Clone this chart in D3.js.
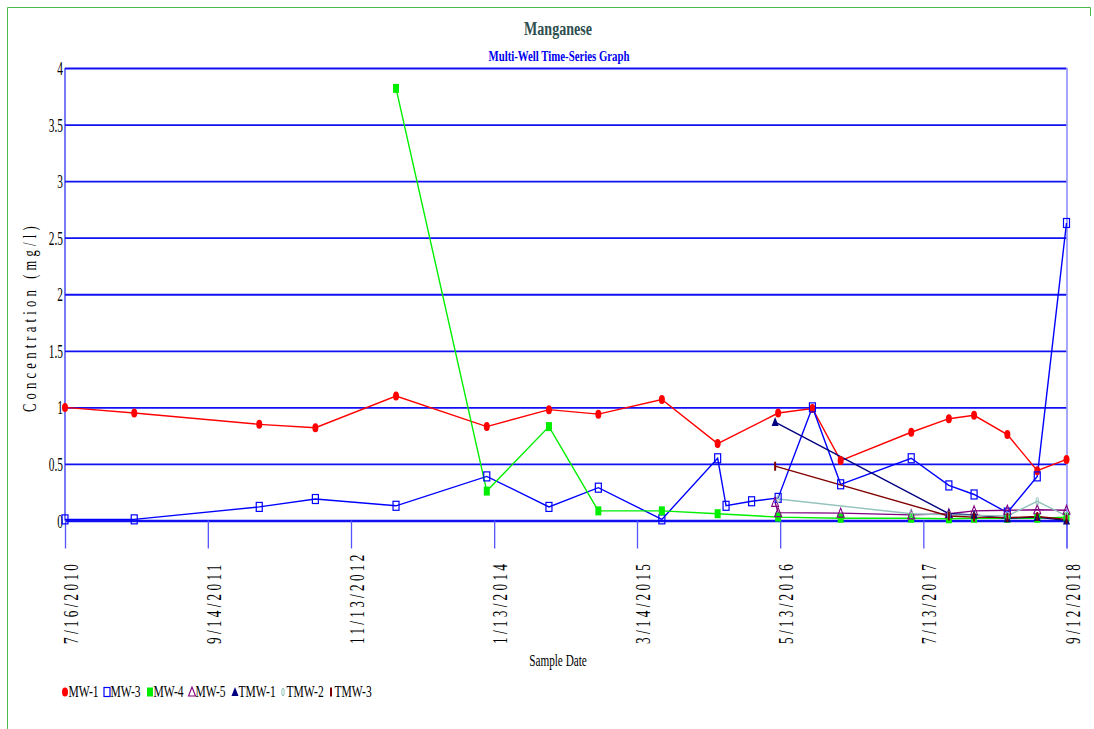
<!DOCTYPE html>
<html>
<head>
<meta charset="utf-8">
<script src="https://cdn.jsdelivr.net/npm/d3@7/dist/d3.min.js"></script>
<style>
  body { margin: 0; background: #fff; }
  svg { display: block; }
  text { font-family: "Liberation Serif", "Times New Roman", serif; }
</style>
</head>
<body>
<svg id="chart" width="1094" height="729"></svg>
<script>
// tick labels on the date axis and the concentration axis
var dateTicks = ['7/16/2010', '9/14/2011', '11/13/2012', '1/13/2014', '3/14/2015', '5/13/2016', '7/13/2017', '9/12/2018'];
var concTicks = [0, 0.5, 1, 1.5, 2, 2.5, 3, 3.5, 4];

// well data (mg/l)
var mw1Dates = ['2010-07-16', '2011-02-07', '2012-02-14', '2012-07-30', '2013-03-27', '2013-12-22', '2014-06-25', '2014-11-19', '2015-05-27', '2015-11-09', '2016-05-07', '2016-08-17', '2016-11-09', '2017-06-07', '2017-09-27', '2017-12-11', '2018-03-20', '2018-06-17', '2018-09-12'];
var mw1Values = [1.0, 0.95, 0.85, 0.82, 1.10, 0.83, 0.98, 0.94, 1.07, 0.68, 0.95, 0.99, 0.53, 0.78, 0.90, 0.93, 0.76, 0.44, 0.54];

var mw3Dates = ['2010-07-16', '2011-02-07', '2012-02-14', '2012-07-30', '2013-03-27', '2013-12-22', '2014-06-25', '2014-11-19', '2015-05-27', '2015-11-09', '2015-12-04', '2016-02-18', '2016-05-07', '2016-08-17', '2016-11-09', '2017-06-07', '2017-09-27', '2017-12-11', '2018-03-20', '2018-06-17', '2018-09-12'];
var mw3Values = [0.01, 0.01, 0.12, 0.19, 0.13, 0.39, 0.12, 0.29, 0.01, 0.55, 0.13, 0.17, 0.20, 1.0, 0.32, 0.55, 0.31, 0.23, 0.07, 0.39, 2.63];

var mw4Dates = ['2013-03-27', '2013-12-22', '2014-06-25', '2014-11-19', '2015-05-27', '2015-11-09', '2016-05-07', '2016-11-09', '2017-06-07', '2017-09-27', '2017-12-11', '2018-03-20', '2018-06-17', '2018-09-12'];
var mw4Values = [3.82, 0.26, 0.83, 0.085, 0.085, 0.06, 0.03, 0.02, 0.02, 0.015, 0.02, 0.02, 0.02, 0.03];

var mw5Dates = ['2016-04-28', '2016-05-07', '2016-11-09', '2017-06-07', '2017-09-27', '2017-12-11', '2018-03-20', '2018-06-17', '2018-09-12'];
var mw5Values = [0.16, 0.07, 0.065, 0.05, 0.06, 0.085, 0.09, 0.095, 0.09];

var tmw1Dates = ['2016-04-28', '2017-09-27', '2017-12-11', '2018-03-20', '2018-06-17', '2018-09-12'];
var tmw1Values = [0.87, 0.06, 0.05, 0.02, 0.03, 0.0];

var tmw2Dates = ['2016-05-07', '2017-06-07', '2017-09-27', '2018-03-20', '2018-06-17', '2018-09-12'];
var tmw2Values = [0.19, 0.06, 0.05, 0.04, 0.17, 0.04];

var tmw3Dates = ['2016-04-28', '2017-09-27', '2017-12-11', '2018-03-20', '2018-06-17', '2018-09-12'];
var tmw3Values = [0.48, 0.04, 0.03, 0.025, 0.035, 0.01];

(function() {
  var parseIso = d3.timeParse('%Y-%m-%d');
  var parseLabel = d3.timeParse('%m/%d/%Y');

  function zip(dates, values) {
    return dates.map(function(d, i) { return {date: parseIso(d), value: values[i]}; });
  }

  var series = [
    {name: 'MW-1', data: zip(mw1Dates, mw1Values), color: '#ff0000', marker: 'dot'},
    {name: 'MW-3', data: zip(mw3Dates, mw3Values), color: '#0000ff', marker: 'openSquare'},
    {name: 'MW-4', data: zip(mw4Dates, mw4Values), color: '#00ee00', marker: 'square'},
    {name: 'MW-5', data: zip(mw5Dates, mw5Values), color: '#800080', marker: 'openTriangle'},
    {name: 'TMW-1', data: zip(tmw1Dates, tmw1Values), color: '#000080', marker: 'triangle'},
    {name: 'TMW-2', data: zip(tmw2Dates, tmw2Values), color: '#93c3bb', marker: 'thinOval'},
    {name: 'TMW-3', data: zip(tmw3Dates, tmw3Values), color: '#800000', marker: 'bar'}
  ];

  var svg = d3.select('#chart');
  var plotLeft = 65, plotRight = 1066.5, plotTop = 68, plotBottom = 520.5;

  var x = d3.scaleTime()
    .domain([parseLabel(dateTicks[0]), parseLabel(dateTicks[dateTicks.length - 1])])
    .range([plotLeft, plotRight]);
  var y = d3.scaleLinear().domain([0, 4]).range([plotBottom, plotTop]);

  // condensed text helper (the original uses a narrow serif)
  function ctext(parent, tx, ty, str, opts) {
    opts = opts || {};
    var g = parent.append('g')
      .attr('transform', 'translate(' + tx + ',' + ty + ')' + (opts.rotate ? ' rotate(' + opts.rotate + ')' : '') + ' scale(' + (opts.sx || 0.7) + ',1)');
    return g.append('text')
      .attr('text-anchor', opts.anchor || 'start')
      .attr('font-size', opts.size || 15)
      .attr('font-weight', opts.weight || 'normal')
      .attr('letter-spacing', opts.ls || 0)
      .attr('fill', opts.fill || '#000')
      .text(str);
  }

  // outer green frame
  svg.append('path')
    .attr('d', 'M7.5,729 V7.5 H1090.5 V16')
    .attr('fill', 'none')
    .attr('stroke', '#4cb94c')
    .attr('stroke-width', 1);

  // titles
  ctext(svg, 558, 35, 'Manganese', {anchor: 'middle', size: 19, weight: 'bold', fill: '#2f4f4f', sx: 0.74});
  ctext(svg, 559, 61, 'Multi-Well Time-Series Graph', {anchor: 'middle', size: 15, weight: 'bold', fill: '#0000ee', sx: 0.72});

  // horizontal grid
  svg.append('g')
    .attr('transform', 'translate(' + plotLeft + ',0)')
    .call(d3.axisLeft(y).tickValues(concTicks).tickSize(-(plotRight - plotLeft)).tickFormat(''))
    .call(function(g) {
      g.select('.domain').remove();
      g.selectAll('.tick line').attr('stroke', '#1010f0').attr('stroke-width', 1.8);
      g.selectAll('.tick').filter(function(d) { return d === 0; }).select('line').attr('stroke-width', 2.6);
    });

  // left and right frame lines
  svg.append('line').attr('x1', plotLeft).attr('x2', plotLeft).attr('y1', plotTop).attr('y2', plotBottom)
    .attr('stroke', '#2020f0').attr('stroke-width', 1.2);
  svg.append('line').attr('x1', plotRight + 0.5).attr('x2', plotRight + 0.5).attr('y1', plotTop).attr('y2', plotBottom + 28)
    .attr('stroke', '#8080ff').attr('stroke-width', 1.4);

  // date ticks hanging under the zero line
  svg.append('g')
    .attr('transform', 'translate(0,' + plotBottom + ')')
    .call(d3.axisBottom(x).tickValues(dateTicks.map(parseLabel)).tickSize(28).tickFormat(''))
    .call(function(g) {
      g.select('.domain').remove();
      g.selectAll('.tick line').attr('stroke', '#5555ff').attr('stroke-width', 1.3);
    });

  // y tick labels
  concTicks.forEach(function(v) {
    ctext(svg, 63, y(v) + 7, String(v), {anchor: 'end', size: 19, sx: 0.6});
  });

  // x tick labels, rotated and spaced
  dateTicks.forEach(function(s) {
    ctext(svg, x(parseLabel(s)) + 13, 644, s, {anchor: 'start', size: 20, sx: 0.66, ls: 5, rotate: -90});
  });

  // axis titles
  ctext(svg, 36, 412, 'Concentration (mg/l)', {anchor: 'start', size: 18, sx: 0.7, ls: 6, rotate: -90});
  ctext(svg, 558, 666, 'Sample Date', {anchor: 'middle', size: 17, sx: 0.66});

  function drawMarker(g, type, color, cx, cy) {
    if (type === 'dot') {
      g.append('ellipse').attr('cx', cx).attr('cy', cy).attr('rx', 3).attr('ry', 4.5).attr('fill', color);
    } else if (type === 'openSquare') {
      g.append('rect').attr('x', cx - 3).attr('y', cy - 4.5).attr('width', 6).attr('height', 9)
        .attr('fill', 'none').attr('stroke', color).attr('stroke-width', 1.2);
    } else if (type === 'square') {
      g.append('rect').attr('x', cx - 3).attr('y', cy - 4.5).attr('width', 6).attr('height', 9).attr('fill', color);
    } else if (type === 'openTriangle') {
      g.append('path').attr('d', 'M' + cx + ',' + (cy - 5) + 'L' + (cx + 3.5) + ',' + (cy + 4) + 'L' + (cx - 3.5) + ',' + (cy + 4) + 'Z')
        .attr('fill', 'none').attr('stroke', color).attr('stroke-width', 1.1);
    } else if (type === 'triangle') {
      g.append('path').attr('d', 'M' + cx + ',' + (cy - 5) + 'L' + (cx + 3.5) + ',' + (cy + 4) + 'L' + (cx - 3.5) + ',' + (cy + 4) + 'Z')
        .attr('fill', color);
    } else if (type === 'thinOval') {
      g.append('ellipse').attr('cx', cx).attr('cy', cy).attr('rx', 1.2).attr('ry', 4)
        .attr('fill', 'none').attr('stroke', color).attr('stroke-width', 1);
    } else if (type === 'bar') {
      g.append('line').attr('x1', cx).attr('x2', cx).attr('y1', cy - 4.5).attr('y2', cy + 4.5)
        .attr('stroke', color).attr('stroke-width', 2);
    }
  }

  var line = d3.line()
    .x(function(d) { return x(d.date); })
    .y(function(d) { return y(d.value); });

  var plot = svg.append('g');
  series.forEach(function(s) {
    plot.append('path')
      .datum(s.data)
      .attr('fill', 'none')
      .attr('stroke', s.color)
      .attr('stroke-width', 1.4)
      .attr('d', line);
  });
  series.forEach(function(s) {
    var mg = plot.append('g');
    s.data.forEach(function(d) {
      drawMarker(mg, s.marker, s.color, x(d.date), y(d.value));
    });
  });

  // legend
  var legendX = [65, 107, 150, 192, 235, 283, 331];
  var legend = svg.append('g');
  series.forEach(function(s, i) {
    drawMarker(legend, s.marker, s.color, legendX[i], 692);
    ctext(legend, legendX[i] + 3.5, 697, s.name, {size: 17, sx: 0.68});
  });
})();
</script>
</body>
</html>
